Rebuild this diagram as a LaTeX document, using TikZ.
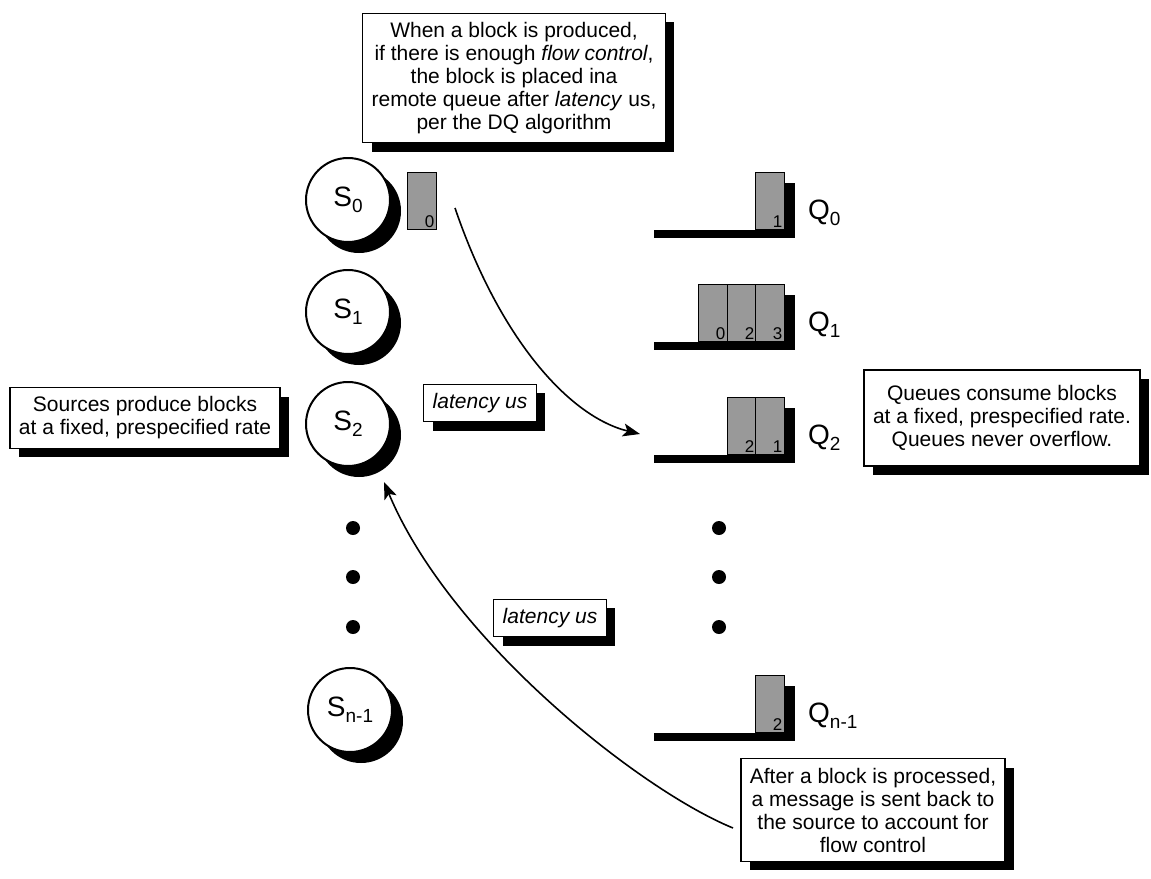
\documentclass[tikz,border=0pt]{standalone}
\usepackage{fontspec}
\setmainfont{Liberation Sans}
\usetikzlibrary{shadows,arrows.meta}
\definecolor{blockgray}{RGB}{153,153,153}

% letter with a lowered index, as in S_0 or Q_{n-1}
\newcommand{\idxlabel}[2]{#1\raisebox{-0.42ex}{\fontsize{19}{19}\selectfont #2}}

\begin{document}
\begin{tikzpicture}[x=1pt,y=-1pt,
  every node/.style={font=\fontsize{21}{23}\selectfont},
  note/.style={draw, line width=1.4pt, fill=white, align=center,
    inner xsep=9pt, inner ysep=9pt,
    drop shadow={shadow xshift=9pt, shadow yshift=-9pt, fill=black, opacity=1}},
  src/.style={circle, draw, line width=2pt, fill=white, minimum size=84pt,
    inner sep=0pt, font=\fontsize{28}{28}\selectfont,
    drop shadow={shadow xshift=11pt, shadow yshift=-11pt, fill=black, opacity=1}},
  blk/.style={draw, line width=1pt, fill=blockgray, minimum width=29pt,
    minimum height=57pt, inner sep=0pt, anchor=south west},
  num/.style={anchor=south east, inner sep=2.5pt, font=\fontsize{17}{17}\selectfont},
  qlabel/.style={anchor=west, inner sep=0pt, font=\fontsize{28}{28}\selectfont},
  dot/.style={circle, fill=black, minimum size=14pt, inner sep=0pt},
  arr/.style={line width=1.6pt, -{Stealth[length=17pt,width=13pt,inset=4pt]}}
]
\useasboundingbox (0,0) rectangle (1151,878);

% explanatory notes
\node[note] (produced) at (514,78) {When a block is produced,\\
  if there is enough \textit{flow control},\\
  the block is placed ina\\
  remote queue after \textit{latency} us,\\
  per the DQ algorithm};
\node[note] (sources) at (145,418) {Sources produce blocks\\at a fixed, prespecified rate};
\node[note, minimum height=96pt] (queues) at (1002,418) {Queues consume blocks\\at a fixed, prespecified rate.\\Queues never overflow.};
\node[note] (processed) at (873,810) {After a block is processed,\\a message is sent back to\\the source to account for\\flow control};
\node[note] (lat1) at (480,403) {\textit{latency us}};
\node[note] (lat2) at (550,618) {\textit{latency us}};

% sources
\node[src] (s0) at (348,200) {\idxlabel{S}{0}};
\node[src] (s1) at (348,312) {\idxlabel{S}{1}};
\node[src] (s2) at (348,424) {\idxlabel{S}{2}};
\node[src] (sn) at (350,710) {\idxlabel{S}{n-1}};
\node[blk] (s0b) at (407,230) {};
\node[num] at (s0b.south east) {0};

\node[dot] (ld1) at (353,528) {};
\node[dot] (ld2) at (353,577) {};
\node[dot] (ld3) at (353,627) {};

% queues: base and back wall, then the queued blocks
\fill (654,230) rectangle (795,238);
\fill (784,183) rectangle (795,238);
\node[blk] (q0a) at (755,230) {};
\node[num] at (q0a.south east) {1};
\node[qlabel] (q0) at (808,213) {\idxlabel{Q}{0}};

\fill (654,342) rectangle (795,350);
\fill (784,295) rectangle (795,350);
\node[blk] (q1a) at (698,342) {};
\node[blk] (q1b) at (727,342) {};
\node[blk] (q1c) at (755,342) {};
\node[num] at (q1a.south east) {0};
\node[num] at (q1b.south east) {2};
\node[num] at (q1c.south east) {3};
\node[qlabel] (q1) at (808,325) {\idxlabel{Q}{1}};

\fill (654,455) rectangle (795,463);
\fill (784,408) rectangle (795,463);
\node[blk] (q2a) at (727,455) {};
\node[blk] (q2b) at (755,455) {};
\node[num] at (q2a.south east) {2};
\node[num] at (q2b.south east) {1};
\node[qlabel] (q2) at (808,438) {\idxlabel{Q}{2}};

\node[dot] (rd1) at (719,528) {};
\node[dot] (rd2) at (719,577) {};
\node[dot] (rd3) at (719,627) {};

\fill (654,733) rectangle (795,741);
\fill (784,686) rectangle (795,741);
\node[blk] (qna) at (755,733) {};
\node[num] at (qna.south east) {2};
\node[qlabel] (qn) at (808,716) {\idxlabel{Q}{n-1}};

% block travels to a remote queue; credit returns to the source
\coordinate (sendfrom) at (455,208);
\coordinate (sendto) at (640,434);
\draw[arr] (sendfrom) .. controls (500,340) and (570,417) .. (sendto);
\coordinate (backfrom) at (733,828);
\coordinate (backto) at (384,482);
\draw[arr] (backfrom) .. controls (640,790) and (450,640) .. (backto);
\end{tikzpicture}
\end{document}
